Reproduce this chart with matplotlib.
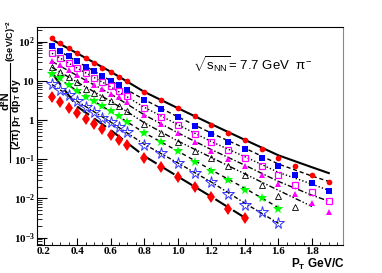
import numpy as np
import matplotlib
matplotlib.use("Agg")
import matplotlib.pyplot as plt
from matplotlib.lines import Line2D
from matplotlib.ticker import MultipleLocator, FuncFormatter, LogLocator, NullFormatter

plt.rcParams['mathtext.fontset'] = 'custom'
plt.rcParams['mathtext.rm'] = 'Liberation Sans'
plt.rcParams['mathtext.it'] = 'Liberation Sans:italic'
plt.rcParams['mathtext.bf'] = 'Liberation Serif:bold'
plt.rcParams['mathtext.sf'] = 'Liberation Sans:bold'

# ---- data ----
pt_full = [0.25, 0.30, 0.35, 0.40, 0.45, 0.50, 0.55, 0.60, 0.65, 0.70,
           0.80, 0.90, 1.00, 1.10, 1.20, 1.30, 1.40, 1.50, 1.60, 1.70, 1.80, 1.90]

red_circles = [120, 93, 69, 52, 37, 29, 21, 17, 12.6, 9.8,
               5.2, 3.2, 2.0, 1.25, 0.76, 0.46, 0.30, 0.18, 0.11, 0.065, 0.040, 0.026]
blue_squares = [76, 57, 43, 32, 22.6, 17.5, 13, 10, 7.6, 5.9,
                3.3, 1.95, 1.18, 0.72, 0.44, 0.28, 0.18, 0.107, 0.066, 0.039, 0.024, 0.0155]
mag_open_squares = [52, 39, 29, 21.5, 16, 12, 9.2, 7.2, 5.4, 4.0,
                    2.05, 1.18, 0.75, 0.44, 0.27, 0.17, 0.107, 0.066, 0.039, 0.022, 0.0146, 0.0087]
mag_triangles = [32, 25, 18.6, 13.9, 10.3, 7.7, 6.3, 4.7, 3.9, 2.9,
                 1.3, 0.77, 0.46, 0.27, 0.165, 0.10, 0.066, 0.040, 0.023, 0.013, 0.0077, 0.0045]
open_triangles = [22.5, 17, 12.6, 9.4, 6.3, 4.9, 3.9, 3.0, 2.2, 1.7,
                  0.80, 0.46, 0.28, 0.165, 0.107, 0.066, 0.039, 0.022, 0.0115, 0.0059]
green_stars = [15, 11.4, 7.7, 5.5, 3.9, 3.0, 2.2, 1.65, 1.23, 0.91,
               0.46, 0.27, 0.16, 0.087, 0.050, 0.030, 0.0165, 0.010, 0.0053]
blue_open_stars = [8.1, 5.9, 4.2, 3.0, 2.15, 1.6, 1.14, 0.88, 0.65, 0.49,
                   0.235, 0.14, 0.080, 0.043, 0.0255, 0.0128, 0.0067, 0.0046, 0.0023]
red_diamonds = [3.85, 2.9, 2.05, 1.5, 1.07, 0.80, 0.59, 0.41, 0.31, 0.23,
                0.11, 0.064, 0.036, 0.019, 0.011, 0.0055, 0.0032]

# fit curves (read at knots)
fit_pt = [0.25, 0.40, 0.60, 0.80, 1.00, 1.20, 1.40, 1.60, 1.80, 1.90]
fit_red = [112, 50, 17, 5.2, 2.0, 0.78, 0.31, 0.125, 0.062, 0.044]
fit_blue = [74, 31, 10, 3.3, 1.2, 0.46, 0.19, 0.075, 0.037, 0.027]
fit_magsq = [50, 21, 7.0, 2.1, 0.76, 0.28, 0.115, 0.046, 0.023, 0.016]
fit_magtri = [31, 13.5, 4.6, 1.35, 0.47, 0.175, 0.07, 0.027, 0.012, 0.0085]
fit_opentri = [22, 9.2, 3.0, 0.85, 0.29, 0.11, 0.042, 0.016, 0.0062]
fit_green = [15, 5.5, 1.65, 0.47, 0.16, 0.053, 0.018, 0.0058]
fit_bstar = [8.0, 3.0, 0.88, 0.24, 0.080, 0.026, 0.0075, 0.0023]
fit_diam = [15.5, 2.2, 0.55, 0.12, 0.036, 0.011, 0.0032]

y_tick_vals = [1e-3, 1e-2, 1e-1, 1, 10, 100]
y_tick_labels = [r'$\mathbf{10^{-3}}$', r'$\mathbf{10^{-2}}$', r'$\mathbf{10^{-1}}$',
                 r'$\mathbf{1}$', r'$\mathbf{10}$', r'$\mathbf{10^{2}}$']

series = [
    (red_circles, dict(marker='o', color='#ff0000', mfc='#ff0000', ms=4.1, mew=0), fit_red, dict(ls='-', lw=1.5)),
    (blue_squares, dict(marker='s', color='#0000ff', mfc='#0000ff', ms=3.9, mew=0), fit_blue, dict(ls=(0, (3, 2)), lw=1.0)),
    (mag_open_squares, dict(marker='s', color='#ff00ff', mfc='none', ms=4.2, mew=0.9), fit_magsq, dict(ls=(0, (1, 1.5)), lw=1.0)),
    (mag_triangles, dict(marker='^', color='#ff00ff', mfc='#ff00ff', ms=4.8, mew=0), fit_magtri, dict(ls=(0, (4, 1.5, 1, 1.5)), lw=1.0)),
    (open_triangles, dict(marker='^', color='#000000', mfc='none', ms=4.8, mew=0.6), fit_opentri, dict(ls=(0, (4, 1.5, 1, 1.5, 1, 1.5)), lw=1.0)),
    (green_stars, dict(marker='*', color='#00ff00', mfc='#00ff00', ms=7.5, mew=0), fit_green, dict(ls=(0, (3, 2.5)), lw=1.0)),
    (blue_open_stars, dict(marker='*', color='#3333ff', mfc='none', ms=8.5, mew=0.7), fit_bstar, dict(ls=(0, (3, 1.5, 1, 1.5)), lw=1.0)),
    (red_diamonds, dict(marker='d', color='#ff0000', mfc='#ff0000', ms=6.5, mew=0), fit_diam, dict(ls=(0, (7, 3)), lw=1.5)),
]

fig = plt.figure(figsize=(3.82, 2.73), dpi=100)
ax = fig.add_axes([0.097, 0.103, 0.801, 0.798])
ax.set_yscale('log')

for vals, mstyle, fitv, lstyle in series:
    ax.plot(fit_pt[:len(fitv)], fitv, color='black', zorder=2, **lstyle)
    ax.plot(pt_full[:len(vals)], vals, ls='none', zorder=3, **mstyle)

ax.set_xlim(0.161, 1.985)
ax.set_ylim(6.5e-4, 234)

ax.xaxis.set_major_locator(MultipleLocator(0.2))
ax.xaxis.set_minor_locator(MultipleLocator(0.05))
ax.xaxis.set_major_formatter(FuncFormatter(lambda v, p: f'{v:.1f}'))
ax.set_yticks(y_tick_vals)
ax.set_yticklabels(y_tick_labels)
ax.yaxis.set_minor_locator(LogLocator(base=10, subs=np.arange(2, 10)))
ax.yaxis.set_minor_formatter(NullFormatter())

ax.tick_params(axis='both', which='both', direction='in', top=False, right=False)
ax.tick_params(axis='y', which='major', length=7, width=0.8, pad=1.5)
ax.tick_params(axis='y', which='minor', length=3.5, width=0.6)
ax.tick_params(axis='x', which='major', length=5, width=0.8, pad=1.5)
ax.tick_params(axis='x', which='minor', length=2.5, width=0.6)
for lab in ax.get_xticklabels():
    lab.set_fontfamily('Liberation Serif')
    lab.set_fontweight('bold')
    lab.set_fontsize(8)
for lab in ax.get_yticklabels():
    lab.set_fontsize(8)
for sp in ax.spines.values():
    sp.set_linewidth(0.8)
ax.spines['right'].set_color('#888888')

ax.text(0.51, 0.826, r'$\sqrt{\mathrm{s}_{\mathrm{NN}}}$= 7.7 GeV  $\mathrm{\pi}^{-}$', transform=ax.transAxes,
        fontsize=9.5, family='Liberation Sans', va='center', ha='left')

fig.text(0.903, 0.002, r'P$_{\mathsf{T}}$ GeV/C', fontsize=8.5, family='Liberation Sans',
         fontweight='bold', ha='right', va='bottom')

# y-axis title built as a fraction
fig.text(0.014, 0.630, 'd²N', rotation=90, fontsize=8, family='Liberation Sans',
         fontweight='bold', ha='center', va='center')
fig.add_artist(Line2D([0.0265, 0.0265], [0.405, 0.770], color='black', lw=0.8,
                      transform=fig.transFigure))
fig.text(0.042, 0.583, r'(2π) p$_{\mathsf{T}}$ dp$_{\mathsf{T}}$ dy', rotation=90, fontsize=7.5,
         family='Liberation Sans', fontweight='bold', ha='center', va='center')
fig.text(0.030, 0.850, r'(GeV/C)$^{\mathsf{-2}}$', rotation=90, fontsize=6.5,
         family='Liberation Sans', fontweight='bold', ha='center', va='center')

fig.savefig('out.png', dpi=100)
